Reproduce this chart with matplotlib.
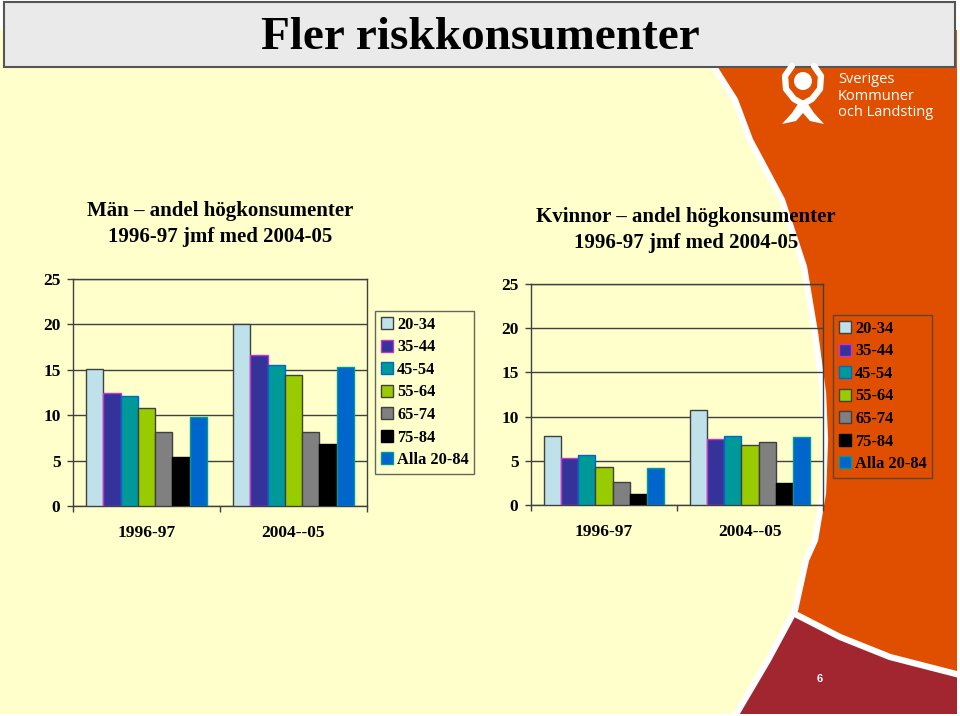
import numpy as np
import matplotlib
matplotlib.use("Agg")
import matplotlib.pyplot as plt
from matplotlib.patches import Polygon, Rectangle, Circle

# data
periods = ['1996-97', '2004--05']
age_groups = ['20-34', '35-44', '45-54', '55-64', '65-74', '75-84', 'Alla 20-84']
men_1996 = [15.1, 12.4, 12.1, 10.8, 8.2, 5.4, 9.8]
men_2004 = [20.0, 16.6, 15.5, 14.4, 8.2, 6.8, 15.3]
women_1996 = [7.8, 5.3, 5.6, 4.3, 2.6, 1.2, 4.2]
women_2004 = [10.8, 7.5, 7.8, 6.8, 7.1, 2.5, 7.7]

faces = ['#BFE1EA', '#333399', '#009999', '#99CC00', '#808080', '#000000', '#0066CC']
edges = ['#404040', '#CC33CC', '#0066CC', '#404040', '#404040', '#000000', '#009999']

serif = 'Liberation Serif'
W, H = 960, 716

fig = plt.figure(figsize=(9.6, 7.16), dpi=100)
fig.patch.set_facecolor('white')

# background (pixel coords)
bg = fig.add_axes([0, 0, 1, 1])
bg.set_xlim(0, W)
bg.set_ylim(H, 0)
bg.axis('off')
bg.add_patch(Rectangle((0, 30), 957, 684, facecolor='#E04F00', edgecolor='none'))

curve = [(700, 30), (705, 60), (714, 67), (735, 100), (750, 140), (782, 200), (804, 267),
         (815, 333), (823, 393), (825, 440), (823, 493), (815, 540), (806, 560),
         (795, 610), (768, 660), (735, 716)]
bg.add_patch(Polygon([(0, 30)] + curve + [(0, 716)], closed=True,
                     facecolor='#FFFFCC', edgecolor='none', zorder=1))
red_top = [(960, 675), (890, 657), (840, 637), (795, 614)]
red = red_top + [(768, 660), (735, 716), (960, 716)]
bg.add_patch(Polygon(red, closed=True, facecolor='#A1262F', edgecolor='none', zorder=2))
bg.plot([p[0] for p in red_top], [p[1] for p in red_top], color='white', lw=4.5, zorder=3)
bg.plot([p[0] for p in curve], [p[1] for p in curve], color='white', lw=4.5, zorder=3)
bg.add_patch(Rectangle((957, 0), 3, 716, facecolor='white', edgecolor='none', zorder=4))
bg.add_patch(Rectangle((0, 714), 960, 2, facecolor='white', edgecolor='none', zorder=4))

# title box
bg.add_patch(Rectangle((4, 2), 951, 65, facecolor='#EAEAEA', edgecolor='#555555',
                       lw=1.5, zorder=5))
bg.text(480, 38, 'Fler riskkonsumenter', ha='center', va='center', fontsize=34,
        family=serif, weight='bold', zorder=6)

# logo
bg.add_patch(Circle((803, 81), 9, facecolor='white', edgecolor='none', zorder=6))
arm_l = [(792, 66), (785, 76), (786, 89), (794, 99), (803, 104)]
arm_r = [(814, 66), (821, 76), (820, 89), (812, 99), (803, 104)]
for arm in (arm_l, arm_r):
    bg.plot([p[0] for p in arm], [p[1] for p in arm], color='white', lw=4.5,
            solid_capstyle='round', zorder=6)
tail = [(800, 101), (792, 113), (782, 124), (796, 121), (803, 113), (810, 121),
        (824, 124), (814, 113), (806, 101)]
bg.add_patch(Polygon(tail, closed=True, facecolor='white', edgecolor='none', zorder=6))
bg.text(838, 96, 'Sveriges\nKommuner\noch Landsting', ha='left', va='center',
        fontsize=10.5, family='Open Sans', color='white', linespacing=1.1, zorder=6)

bg.text(820, 679, '6', ha='center', va='center', fontsize=8, family='Liberation Sans',
        weight='bold', color='white', zorder=6)

# chart titles
bg.text(220, 224, 'Män – andel högkonsumenter\n1996-97 jmf med 2004-05', ha='center',
        va='center', fontsize=15, family=serif, weight='bold', linespacing=1.45, zorder=6)
bg.text(686, 230, 'Kvinnor – andel högkonsumenter\n1996-97 jmf med 2004-05', ha='center',
        va='center', fontsize=15, family=serif, weight='bold', linespacing=1.45, zorder=6)


def px_axes(x0, y0, x1, y1):
    return fig.add_axes([x0 / W, 1 - y1 / H, (x1 - x0) / W, (y1 - y0) / H])


def draw_chart(ax, v1, v2, leg_x, leg_y):
    ax.set_facecolor('none')
    x = np.arange(len(periods))
    n = len(age_groups)
    w = 0.824 / n
    for i, lab in enumerate(age_groups):
        ax.bar(x - 0.412 + w * (i + 0.5), [v1[i], v2[i]], width=w, color=faces[i],
               edgecolor=edges[i], lw=1, label=lab, zorder=3)
    ax.set_xlim(-0.5, 1.5)
    ax.set_ylim(0, 25)
    ax.set_yticks([0, 5, 10, 15, 20, 25])
    ax.yaxis.grid(True, color='#404040', lw=1, zorder=1)
    ax.set_xticks([-0.5, 0.5, 1.5])
    ax.set_xticklabels([])
    ax.set_xticks(x, minor=True)
    ax.set_xticklabels(periods, minor=True)
    ax.tick_params(axis='x', which='major', length=4, width=1, color='#404040')
    ax.tick_params(axis='x', which='minor', length=0, pad=14)
    ax.tick_params(axis='y', length=4, width=1, color='#404040', pad=5)
    for lab in ax.get_xticklabels(minor=True) + ax.get_yticklabels():
        lab.set_family(serif)
        lab.set_weight('bold')
        lab.set_fontsize(12.5)
    for s in ax.spines.values():
        s.set_color('#404040')
        s.set_linewidth(1)
    leg = ax.legend(loc='upper left', bbox_to_anchor=(leg_x / W, 1 - leg_y / H),
                    bbox_transform=fig.transFigure, borderaxespad=0, frameon=True,
                    fancybox=False, edgecolor='#404040', facecolor='none',
                    prop={'family': serif, 'weight': 'bold', 'size': 11.8},
                    handlelength=0.75, handleheight=0.75, handletextpad=0.25,
                    labelspacing=0.4, borderpad=0.35)
    leg.get_frame().set_linewidth(1)


ax1 = px_axes(73, 279, 367, 506)
draw_chart(ax1, men_1996, men_2004, 375, 311)
ax2 = px_axes(531, 284, 823, 505)
draw_chart(ax2, women_1996, women_2004, 833, 315)

fig.savefig('out.png', dpi=100, facecolor=fig.get_facecolor())
